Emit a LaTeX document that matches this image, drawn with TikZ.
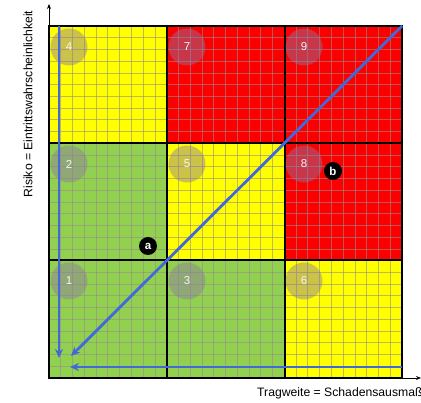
\documentclass[tikz,border=0pt]{standalone}
\usepackage{fontspec}
\setmainfont{Liberation Sans}
\usetikzlibrary{arrows.meta}
\definecolor{cgreen}{RGB}{146,208,80}
\definecolor{cyellow}{RGB}{255,255,0}
\definecolor{cred}{RGB}{250,0,0}
\definecolor{cblue}{RGB}{65,105,220}
\definecolor{cgrid}{RGB}{150,140,140}
\definecolor{ccirc}{RGB}{140,120,165}
\tikzset{
  cell/.style={draw=black,line width=1.3pt},
  fine/.style={draw=cgrid,opacity=0.6,line width=0.8pt},
  numcirc/.style={circle,fill=ccirc,fill opacity=0.45,text opacity=1,minimum size=37pt,inner sep=0pt,text=white!92!gray,font=\fontsize{11.5}{12}\selectfont},
  letcirc/.style={circle,fill=black,minimum size=18pt,inner sep=0pt,text=white,font=\bfseries\fontsize{11.5}{12}\selectfont},
  axis/.style={draw=black,line width=0.9pt,-{Stealth[length=5pt,width=4pt]}},
  barrow/.style={draw=cblue,line width=2.8pt,-{Stealth[length=9pt,width=8pt]}},
  axlabel/.style={font=\fontsize{12.2}{14}\selectfont,inner sep=0pt}
}
\begin{document}
\begin{tikzpicture}[x=1pt,y=-1pt]
\useasboundingbox (0,0) rectangle (421,403);
% cells
\def\xa{49}\def\xb{167}\def\xc{285}\def\xd{402}
\def\ya{26}\def\yb{143}\def\yc{260}\def\yd{378}
\fill[cyellow] (\xa,\ya) rectangle (\xb,\yb);
\fill[cred] (\xb,\ya) rectangle (\xd,\yb);
\fill[cgreen] (\xa,\yb) rectangle (\xb,\yc);
\fill[cyellow] (\xb,\yb) rectangle (\xc,\yc);
\fill[cred] (\xc,\yb) rectangle (\xd,\yc);
\fill[cgreen] (\xa,\yc) rectangle (\xc,\yd);
\fill[cyellow] (\xc,\yc) rectangle (\xd,\yd);
% fine grid
\foreach \i in {1,...,29}{
  \draw[fine] ({\xa+\i*353/30},\ya) -- ({\xa+\i*353/30},\yd);
  \draw[fine] (\xa,{\ya+\i*352/30}) -- (\xd,{\ya+\i*352/30});
}
% cell borders
\foreach \x in {\xb,\xc}{\draw[cell] (\x,\ya) -- (\x,\yd);}
\foreach \y in {\yb,\yc}{\draw[cell] (\xa,\y) -- (\xd,\y);}
\draw[cell] (\xa,\ya) rectangle (\xd,\yd);
% number circles
\node[numcirc] (n4) at (69,47) {4};
\node[numcirc] (n7) at (187,47) {7};
\node[numcirc] (n9) at (304,47) {9};
\node[numcirc] (n2) at (69,164) {2};
\node[numcirc] (n5) at (187,164) {5};
\node[numcirc] (n8) at (304,164) {8};
\node[numcirc] (n1) at (69,281) {1};
\node[numcirc] (n3) at (187,281) {3};
\node[numcirc] (n6) at (304,281) {6};
% axes
\coordinate (o) at (49,378);
\coordinate (ytop) at (49,4);
\coordinate (xend) at (421,378);
\draw[axis] (o) -- (ytop);
\draw[axis] (o) -- (xend);
% blue arrows
\coordinate (v1) at (59,26);
\coordinate (v2) at (59,358);
\coordinate (d1) at (402,26);
\coordinate (d2) at (71,356);
\coordinate (h1) at (402,367);
\coordinate (h2) at (70,367);
\draw[barrow] (v1) -- (v2);
\draw[barrow] (d1) -- (d2);
\draw[barrow] (h1) -- (h2);
% letter circles
\node[letcirc] (la) at (148,246) {a};
\node[letcirc] (lb) at (333,171) {b};
% labels
\node[axlabel,rotate=90] (ylab) at (28,104) {Risiko = Eintrittswahrscheinlichkeit};
\node[axlabel,anchor=base west] (xlab) at (257,397) {Tragweite = Schadensausmaß};
\end{tikzpicture}
\end{document}
